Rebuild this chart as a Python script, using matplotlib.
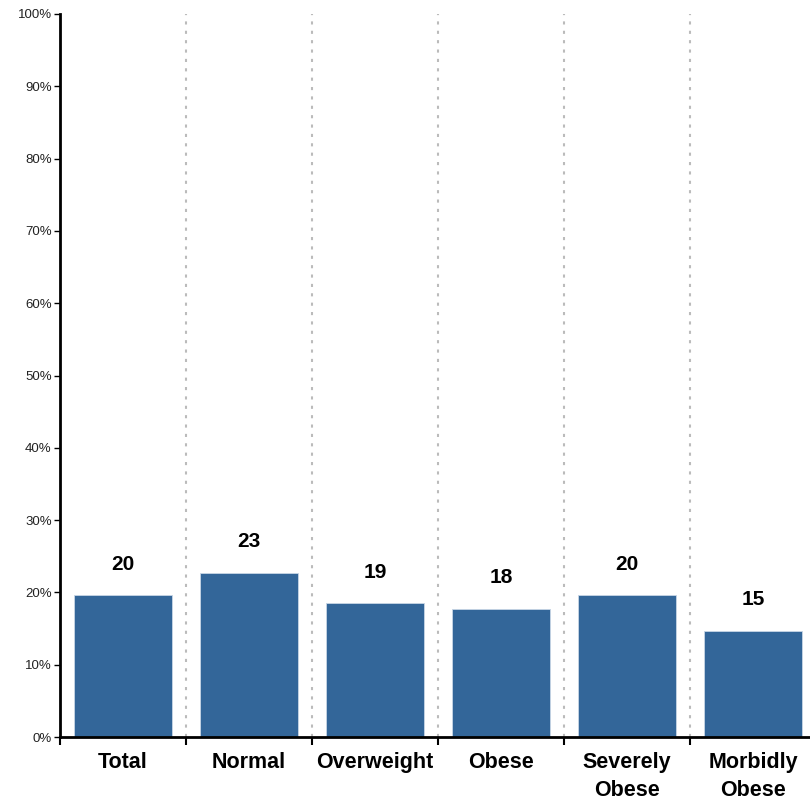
import numpy as np
from matplotlib import pyplot as plt
from matplotlib.ticker import PercentFormatter

categories = ["Total", "Normal", "Overweight", "Obese", "Severely\nObese", "Morbidly\nObese"]
values = [19.6, 22.7, 18.5, 17.7, 19.6, 14.7]
labels = ["20", "23", "19", "18", "20", "15"]

plt.rcParams["font.family"] = ["Liberation Sans", "DejaVu Sans"]

fig = plt.figure(figsize=(8.10, 8.02), dpi=100)
ax = fig.add_axes([60 / 810, 65 / 802, 756 / 810, 723 / 802])

x = np.arange(len(categories)) + 0.5
ax.bar(x, values, width=0.78, color="#336699", edgecolor="#c8d6e6", linewidth=0.6, zorder=3)
for xi, v, lab in zip(x, values, labels):
    ax.text(xi, v + 3.0, lab, ha="center", va="bottom", fontsize=15, fontweight="bold")

ax.set_xlim(0, len(categories))
ax.set_ylim(0, 100)
ax.set_yticks(np.arange(0, 101, 10))
ax.yaxis.set_major_formatter(PercentFormatter(decimals=0))
ax.tick_params(axis="y", labelsize=9.5, length=4, width=1, pad=2, labelcolor="#222222")

ax.set_xticks(np.arange(0, len(categories) + 1))
ax.set_xticklabels([])
ax.tick_params(axis="x", which="major", length=6, width=1.5)
ax.set_xticks(x, minor=True)
ax.set_xticklabels(categories, minor=True, fontsize=15.5, fontweight="bold", linespacing=1.45)
ax.tick_params(axis="x", which="minor", length=0, pad=11)

for b in range(1, len(categories)):
    ax.axvline(b, color="#bbbbbb", linestyle=(0, (1.5, 3)), linewidth=1.5, zorder=1)

for s in ["top", "right"]:
    ax.spines[s].set_visible(False)
for s in ["left", "bottom"]:
    ax.spines[s].set_linewidth(2)
    ax.spines[s].set_zorder(4)

fig.savefig("out.png", dpi=100)
